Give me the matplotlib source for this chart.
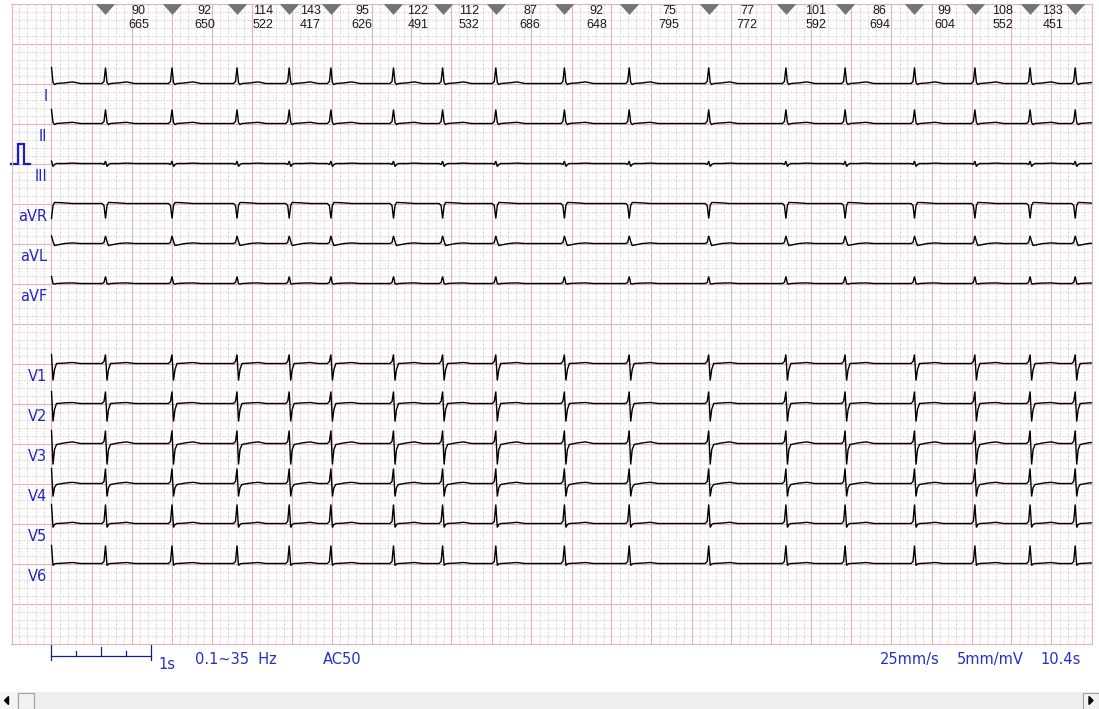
import numpy as np
import matplotlib
matplotlib.use('Agg')
import matplotlib.pyplot as plt
from matplotlib.patches import Rectangle, Polygon

# beat-to-beat values printed in the top strip
heart_rate = [90, 92, 114, 143, 95, 122, 112, 87, 92, 75, 77, 101, 86, 99, 108, 133]
rr_ms = [665, 650, 522, 417, 626, 491, 532, 686, 648, 795, 772, 592, 694, 604, 552, 451]
first_marked_beat = 0.54   # s
opening_beat = 0.0         # s, record opens on a QRS (not marked)
record_len = 10.4          # s

lead_names = ['I', 'II', 'III', 'aVR', 'aVL', 'aVF', 'V1', 'V2', 'V3', 'V4', 'V5', 'V6']
lead_offset = [4, 6, 8, 10, 12, 14, 18, 20, 22, 24, 26, 28]   # mV below top edge

# one beat per lead, knots in s from the R peak, amplitudes in mV
knot_t = [-0.035, -0.015, 0.0, 0.015, 0.03, 0.05, 0.13, 0.21, 0.29]
beat_I   = [0, 0.10, 0.80, 0.05, -0.05, 0.00, 0.03, 0.08, 0]
beat_II  = [0, 0.10, 0.70, 0.05, -0.05, 0.00, 0.03, 0.06, 0]
beat_III = [0, -0.05, 0.12, -0.15, -0.05, 0.00, 0.00, 0.02, 0]
beat_aVR = [0, -0.10, -0.75, -0.10, 0.05, 0.05, 0.03, 0.00, 0]
beat_aVL = [0, 0.05, 0.38, 0.10, -0.10, -0.08, 0.00, 0.03, 0]
beat_aVF = [0, 0.05, 0.35, 0.00, -0.03, 0.00, 0.02, 0.03, 0]
beat_V1  = [0, 0.10, 0.45, -0.85, -0.30, 0.00, 0.02, 0.05, 0]
beat_V2  = [0, 0.10, 0.60, -0.90, -0.30, 0.00, 0.03, 0.05, 0]
beat_V3  = [0, 0.10, 0.65, -1.05, -0.30, -0.05, 0.03, 0.08, 0]
beat_V4  = [0, 0.10, 0.75, -0.65, -0.20, -0.05, 0.02, 0.06, 0]
beat_V5  = [0, 0.10, 0.95, -0.20, -0.05, 0.00, 0.02, 0.06, 0]
beat_V6  = [0, 0.10, 0.90, -0.10, -0.02, 0.00, 0.02, 0.05, 0]
beat_shapes = [beat_I, beat_II, beat_III, beat_aVR, beat_aVL, beat_aVF,
               beat_V1, beat_V2, beat_V3, beat_V4, beat_V5, beat_V6]

# 1 mV calibration pulse next to lead III
cal_t = [-0.40, -0.335, -0.335, -0.27, -0.27, -0.21]
cal_mv = [0, 0, 1, 1, 0, 0]

W, H = 1099, 709
AX_L, AX_T, AX_W, AX_H = 11.5, 3.5, 1080, 640   # grid box in pixels
PX_S, PX_MV = 100.0, 20.0
def fx(x): return x / W
def fy(y): return 1 - y / H
def px2mv(y): return -(y - AX_T) / PX_MV

fig = plt.figure(figsize=(W / 100, H / 100), dpi=100)
ax = fig.add_axes([fx(AX_L), fy(AX_T + AX_H), AX_W / W, AX_H / H])
ax.set_xlim(-0.4, record_len)
ax.set_ylim(-32, 0)

grid_major = '#e4b2bb'
grid_minor = '#cdbfc4'
ax.set_xticks(np.arange(-0.4, record_len + 0.01, 0.4))
ax.set_xticks(np.arange(-0.4, record_len + 0.01, 0.08), minor=True)
ax.set_yticks(np.arange(-32, 0.01, 2))
ax.set_yticks(np.arange(-32, 0.01, 0.4), minor=True)
ax.tick_params(which='both', length=0, labelbottom=False, labelleft=False)
ax.grid(which='minor', color=grid_minor, lw=0.72, linestyle=(0, (1, 1.8)))
ax.grid(which='major', color=grid_major, lw=0.8)
ax.set_axisbelow(True)
for s in ax.spines.values():
    s.set_color(grid_major)
    s.set_linewidth(0.8)

marked = first_marked_beat + np.concatenate([[0], np.cumsum(rr_ms)]) / 1000.0
all_beats = np.concatenate([[opening_beat], marked])

for name, off, shape in zip(lead_names, lead_offset, beat_shapes):
    t = np.concatenate([b + np.array(knot_t) for b in all_beats])
    v = np.tile(shape, len(all_beats))
    keep = t >= 0
    ax.plot(t[keep], v[keep] - off, color='black', lw=1.0, solid_joinstyle='miter')
    ax.text(-0.04, -off - 0.87, name, ha='right', va='baseline', fontsize=10.5,
            color='#2424c4', family='DejaVu Sans')

ax.plot(cal_t, np.array(cal_mv) - lead_offset[2], color='#1a1ac8', lw=1.6,
        solid_joinstyle='miter', clip_on=False)

# beat markers and HR / RR values
tri = [(-9, 5), (9, 5), (0, -5)]
ax.scatter(marked, np.full(len(marked), -0.25), marker=tri, s=14 ** 2,
           color='#747474', linewidths=0, zorder=5, clip_on=False)
mids = (marked[:-1] + marked[1:]) / 2
for m, hr, rr in zip(mids, heart_rate, rr_ms):
    ax.text(m, -0.5, str(hr), ha='center', va='baseline', fontsize=9,
            family='Liberation Sans', color='#1a1a1a')
    ax.text(m, -1.25, str(rr), ha='center', va='baseline', fontsize=9,
            family='Liberation Sans', color='#1a1a1a')

# 1 s scale bar under the grid
bar_col = '#14208a'
ybar = px2mv(655.7)
ax.plot([0, 1], [ybar, ybar], color=bar_col, lw=0.9, clip_on=False)
for tk, top in zip([0, 0.25, 0.5, 0.75, 1.0], [645, 650.7, 647, 650.7, 645]):
    bot = 660 if tk in (0, 1.0) else 655.7
    ax.plot([tk, tk], [px2mv(top), px2mv(bot)], color=bar_col, lw=0.9, clip_on=False)

txt_col = '#2430c8'
fig.text(fx(158), fy(669), '1s', fontsize=10.5, color=txt_col, va='baseline')
fig.text(fx(195), fy(663.5), '0.1~35  Hz', fontsize=10.5, color=txt_col, va='baseline')
fig.text(fx(322.7), fy(663.5), 'AC50', fontsize=10.5, color=txt_col, va='baseline')
fig.text(fx(880), fy(664), '25mm/s', fontsize=10.5, color=txt_col, va='baseline')
fig.text(fx(956.7), fy(664), '5mm/mV', fontsize=10.5, color=txt_col, va='baseline')
fig.text(fx(1081), fy(664), '10.4s', fontsize=10.5, color=txt_col, va='baseline', ha='right')

# scrollbar strip at the bottom of the window
def rect(x, y, w, h, fc, ec='none'):
    fig.add_artist(Rectangle((fx(x), fy(y + h)), w / W, h / H, transform=fig.transFigure,
                             facecolor=fc, edgecolor=ec, lw=0.8))
rect(0, 692, W, 17, '#eeeeee')
rect(0, 692, 17, 17, '#f4f4f4')
rect(17.5, 692.5, 16, 16, '#f2f2f2', '#a0a0a0')
rect(1082.5, 692.5, 16, 16, '#f2f2f2', '#a0a0a0')
fig.add_artist(Polygon([(fx(4.5), fy(700.5)), (fx(8.5), fy(696.5)), (fx(8.5), fy(704.5))],
                       closed=True, transform=fig.transFigure, color='black'))
fig.add_artist(Polygon([(fx(1093), fy(700.5)), (fx(1089), fy(696.5)), (fx(1089), fy(704.5))],
                       closed=True, transform=fig.transFigure, color='black'))

fig.savefig('out.png', dpi=100, facecolor='white')
